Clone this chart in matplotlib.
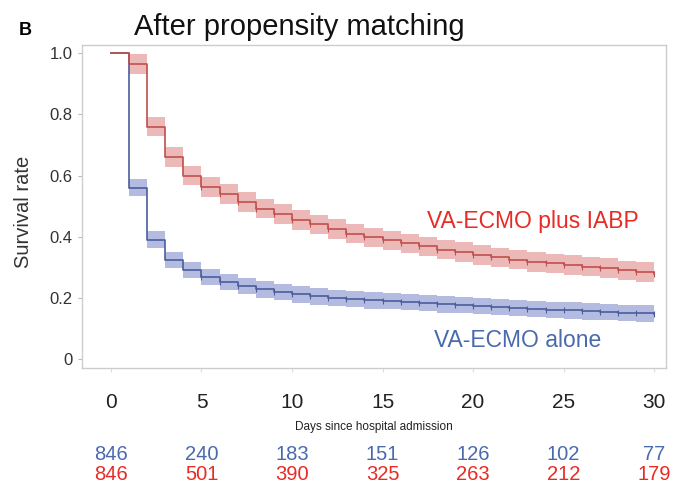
import numpy as np
import matplotlib
matplotlib.use("Agg")
import matplotlib.pyplot as plt
from matplotlib.transforms import blended_transform_factory

plt.rcParams['font.family'] = ['Liberation Sans', 'DejaVu Sans']

# survival estimates at each day (step function)
days = np.arange(0, 31)
surv_iabp = [1.0, 0.965, 0.76, 0.66, 0.60, 0.563, 0.539, 0.514, 0.492, 0.474, 0.455,
             0.44, 0.425, 0.41, 0.398, 0.388, 0.378, 0.368, 0.358, 0.349, 0.340,
             0.332, 0.325, 0.318, 0.313, 0.307, 0.302, 0.297, 0.290, 0.284, 0.278]
surv_alone = [1.0, 0.56, 0.39, 0.323, 0.291, 0.268, 0.252, 0.238, 0.228, 0.219, 0.211,
              0.205, 0.200, 0.196, 0.192, 0.189, 0.186, 0.183, 0.179, 0.176, 0.173,
              0.170, 0.167, 0.164, 0.161, 0.159, 0.156, 0.153, 0.151, 0.149, 0.147]
ci_iabp = 0.032
ci_alone = 0.027

risk_days = [0, 5, 10, 15, 20, 25, 30]
risk_alone = [846, 240, 183, 151, 126, 102, 77]
risk_iabp = [846, 501, 390, 325, 263, 212, 179]

red_line, red_band, red_text = '#c0504d', '#e8a0a0', '#e82b25'
blue_line, blue_band, blue_text = '#4c5c9c', '#9aa6d6', '#4a6aae'

fig = plt.figure(figsize=(6.86, 4.86), dpi=100)
ax = fig.add_axes([0.1195, 0.243, 0.8515, 0.664])

for surv, ci, lc, bc in [(surv_alone, ci_alone, blue_line, blue_band),
                         (surv_iabp, ci_iabp, red_line, red_band)]:
    s = np.array(surv)
    lo = s - ci
    hi = s + ci
    lo[0] = hi[0] = 1.0
    ax.fill_between(days, lo, np.minimum(hi, 1.0), step='post', color=bc, alpha=0.75, lw=0)
    ax.step(days, s, where='post', color=lc, lw=1.2)
    ax.plot(days[5:], s[5:], ls='none', marker='|', ms=4, color=lc, mew=0.8)

ax.text(23.3, 0.43, 'VA-ECMO plus IABP', color=red_text, fontsize=16.5, ha='center', va='baseline')
ax.text(22.46, 0.039, 'VA-ECMO alone', color=blue_text, fontsize=16.5, ha='center', va='baseline')

ax.set_xlim(-1.6, 30.66)
ax.set_ylim(-0.029, 1.026)
ax.set_xticks(risk_days)
ax.set_yticks([0, 0.2, 0.4, 0.6, 0.8, 1.0])
ax.set_yticklabels(['0', '0.2', '0.4', '0.6', '0.8', '1.0'])
ax.tick_params(axis='x', length=3, color='#dddddd', pad=15, labelsize=15, labelcolor='#222222')
ax.tick_params(axis='y', length=3, color='#bbbbbb', pad=4, labelsize=12, labelcolor='#333333')
for sp in ax.spines.values():
    sp.set_color('#cccccc')
    sp.set_linewidth(1.0)

ax.set_ylabel('Survival rate', fontsize=14.5, color='#333333')
ax.yaxis.set_label_coords(-0.084, 0.483)

trans = blended_transform_factory(ax.transData, ax.transAxes)
ax.text(0.5, -0.182, 'Days since hospital admission', transform=ax.transAxes,
        ha='center', va='center', fontsize=8.5, color='#222222')
for d, a, b in zip(risk_days, risk_alone, risk_iabp):
    ax.text(d, -0.268, str(a), transform=trans, ha='center', va='center', fontsize=14.5, color=blue_text)
    ax.text(d, -0.33, str(b), transform=trans, ha='center', va='center', fontsize=14.5, color=red_text)

fig.text(0.028, 0.928, 'B', fontsize=13, fontweight='bold', ha='left', va='baseline')
fig.text(0.195, 0.928, 'After propensity matching', fontsize=21, ha='left', va='baseline', color='#111111')

plt.savefig('out.png', dpi=100)
